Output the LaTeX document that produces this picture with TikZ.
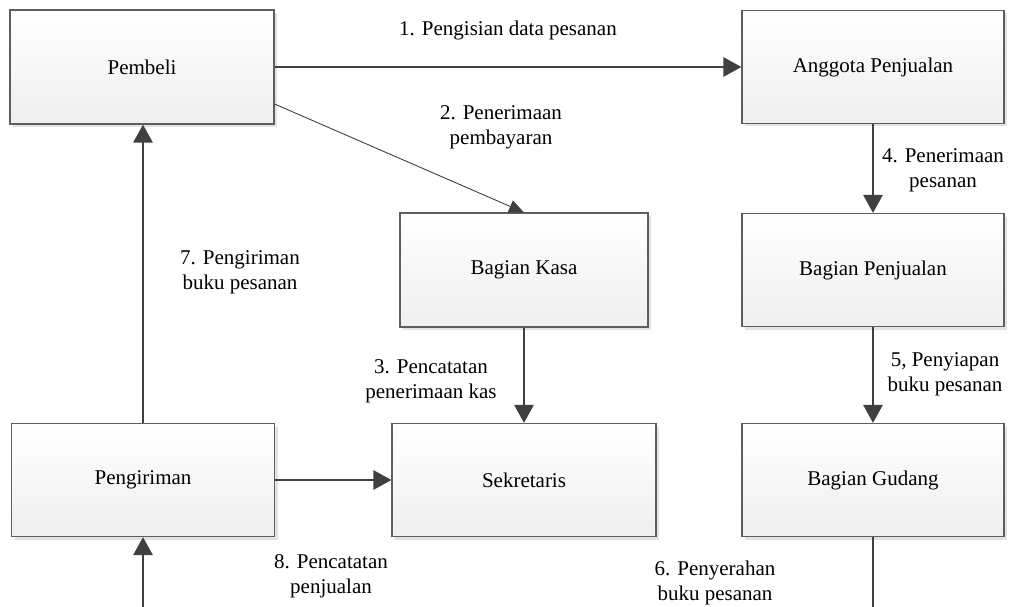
\documentclass[tikz,border=0pt]{standalone}
\usepackage{fontspec}
\setmainfont{Liberation Serif}
\usetikzlibrary{arrows.meta,shadows}
\definecolor{boxline}{HTML}{5E5E5E}
\definecolor{boxfill}{HTML}{EFEFEF}
\definecolor{flowgray}{HTML}{404040}
\begin{document}
\begin{tikzpicture}[x=1pt,y=-1pt,
  every node/.style={font=\fontsize{21}{25}\selectfont},
  unit/.style={draw=boxline, line width=1.1pt, top color=white, bottom color=boxfill,
    minimum height=113pt, inner sep=0pt,
    drop shadow={shadow xshift=3pt, shadow yshift=-3pt, fill=black!11, opacity=1}},
  flow/.style={draw=flowgray, line width=2.8pt, -{Triangle[length=18pt,width=19pt]}},
  thinflow/.style={draw=flowgray, line width=0.9pt, -{Triangle[length=15pt,width=13pt]}},
  plainflow/.style={draw=flowgray, line width=2.8pt},
  label/.style={align=center, inner sep=0pt, anchor=base}]
\useasboundingbox (0,0) rectangle (1009,607);

% units of the sales flow
\node[unit, minimum width=264pt, minimum height=114pt] (pembeli) at (142,67) {Pembeli};
\node[unit, minimum width=262pt] (anggota) at (873,67) {Anggota Penjualan};
\node[unit, minimum width=248pt, minimum height=114pt] (kasa) at (524,270) {Bagian Kasa};
\node[unit, minimum width=262pt] (penjualan) at (873,270) {Bagian Penjualan};
\node[unit, minimum width=263pt] (pengiriman) at (143,480) {Pengiriman};
\node[unit, minimum width=264pt] (sekretaris) at (524,480) {Sekretaris};
\node[unit, minimum width=262pt] (gudang) at (873,480) {Bagian Gudang};

% free ends at the lower edge
\coordinate (inlet) at (143,607);
\coordinate (outlet) at (873,607);

% connectors
\draw[flow] (pembeli.east) -- (anggota.west);
\draw[thinflow] ([yshift=-37pt]pembeli.east) -- (kasa.north);
\draw[flow] (kasa.south) -- (sekretaris.north);
\draw[flow] (anggota.south) -- (penjualan.north);
\draw[flow] (penjualan.south) -- (gudang.north);
\draw[plainflow] (gudang.south) -- (outlet);
\draw[flow] (pengiriman.north) -- (pengiriman.north |- pembeli.south);
\draw[flow] (pengiriman.east) -- (sekretaris.west);
\draw[flow] (inlet) -- (pengiriman.south);

% step labels (base anchor sits on the last line)
\node[label] (l1) at (508,36) {1. Pengisian data pesanan};
\node[label] (l2) at (501,145) {2. Penerimaan\\pembayaran};
\node[label] (l3) at (431,398) {3. Pencatatan\\penerimaan kas};
\node[label] (l4) at (943,187) {4. Penerimaan\\pesanan};
\node[label] (l5) at (945,391) {5, Penyiapan\\buku pesanan};
\node[label] (l6) at (715,600) {6. Penyerahan\\buku pesanan};
\node[label] (l7) at (240,289) {7. Pengiriman\\buku pesanan};
\node[label] (l8) at (331,593) {8. Pencatatan\\penjualan};
\end{tikzpicture}
\end{document}
